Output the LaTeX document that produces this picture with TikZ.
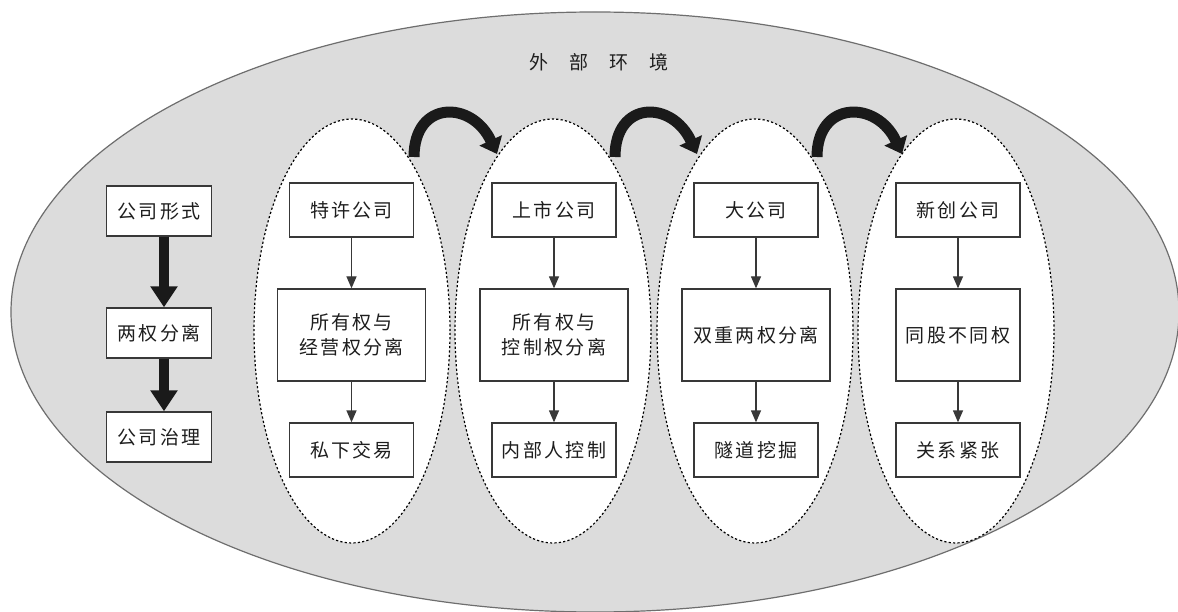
\documentclass[tikz,border=0pt]{standalone}
\usepackage{fontspec}
\newfontfamily\cjk[LetterSpace=12]{Noto Sans CJK SC}
\usetikzlibrary{arrows.meta,shapes.geometric}
\definecolor{envfill}{HTML}{DCDCDC}
\definecolor{envline}{HTML}{6E6E6E}
\definecolor{boxc}{HTML}{383838}
\definecolor{arrc}{HTML}{1A1A1A}
\definecolor{txt}{HTML}{1E1E1E}
\begin{document}
\begin{tikzpicture}[x=1pt,y=-1pt,
  box/.style={draw=boxc, line width=1.3pt, fill=white, inner sep=0pt, text=txt,
    font=\cjk\fontsize{19}{25}\selectfont, align=center},
  smallbox/.style={box, minimum width=124pt, minimum height=54pt},
  midbox/.style={box, minimum width=148pt, minimum height=92pt},
  leftbox/.style={box, minimum width=105pt, minimum height=50pt},
  col/.style={ellipse, draw=black, fill=white, dash pattern=on 2.2pt off 2.2pt,
    line width=1.2pt, minimum width=196pt, minimum height=424pt, inner sep=0pt},
  thinarrow/.style={draw=boxc, line width=1.3pt, -{Triangle[length=12pt,width=10pt]}},
  bigarrow/.style={draw=arrc, line width=10pt, -{Triangle[length=21pt,width=26pt]}},
  curvearrow/.style={draw=arrc, line width=11pt, -{Triangle[length=15pt,width=24pt]}}
]
\useasboundingbox (0,0) rectangle (1178,612);
\fill[white] (0,0) rectangle (1178,612);
\begin{scope}
  \clip (0,0) rectangle (1178,612);
  \draw[fill=envfill, draw=envline, line width=1.2pt] (595,312) ellipse [x radius=584, y radius=300];
\end{scope}

\node[font=\cjk\fontsize{19}{19}\selectfont, text=txt] (title) at (599,62)
  {外\hspace{21pt}部\hspace{21pt}环\hspace{21pt}境};

% dashed column ellipses
\node[col] (e1) at (352,331) {};
\node[col] (e2) at (553,331) {};
\node[col] (e3) at (755,331) {};
\node[col] (e4) at (956,331) {};

% left column
\node[leftbox] (l1) at (159,211) {公司形式};
\node[leftbox] (l2) at (159,333) {两权分离};
\node[leftbox] (l3) at (159,437) {公司治理};
\draw[bigarrow] ([xshift=5pt]l1.south) -- ([xshift=5pt]l2.north);
\draw[bigarrow] ([xshift=5pt]l2.south) -- ([xshift=5pt]l3.north);

% column 1
\node[smallbox] (a1) at (351.5,210) {特许公司};
\node[midbox] (a2) at (351.5,335) {所有权与\\经营权分离};
\node[smallbox] (a3) at (351.5,450) {私下交易};
% column 2
\node[smallbox] (b1) at (554,210) {上市公司};
\node[midbox] (b2) at (554,335) {所有权与\\控制权分离};
\node[smallbox] (b3) at (554,450) {内部人控制};
% column 3
\node[smallbox] (c1) at (756,210) {大公司};
\node[midbox] (c2) at (756,335) {双重两权分离};
\node[smallbox] (c3) at (756,450) {隧道挖掘};
% column 4
\node[smallbox] (d1) at (958,210) {新创公司};
\node[box, minimum width=124pt, minimum height=92pt] (d2) at (958,335) {同股不同权};
\node[smallbox] (d3) at (958,450) {关系紧张};

\foreach \p in {a,b,c,d}{
  \draw[thinarrow] (\p1.south) -- (\p2.north);
  \draw[thinarrow] (\p2.south) -- (\p3.north);
}

% curved arrows between columns
\coordinate (s1) at (414,157); \coordinate (t1) at (497,154);
\coordinate (s2) at (615,157); \coordinate (t2) at (697,154);
\coordinate (s3) at (817,157); \coordinate (t3) at (902,154);
\draw[curvearrow] (s1) .. controls (414,100) and (472,100) .. (t1);
\draw[curvearrow] (s2) .. controls (615,100) and (672,100) .. (t2);
\draw[curvearrow] (s3) .. controls (817,100) and (877,100) .. (t3);
\end{tikzpicture}
\end{document}
